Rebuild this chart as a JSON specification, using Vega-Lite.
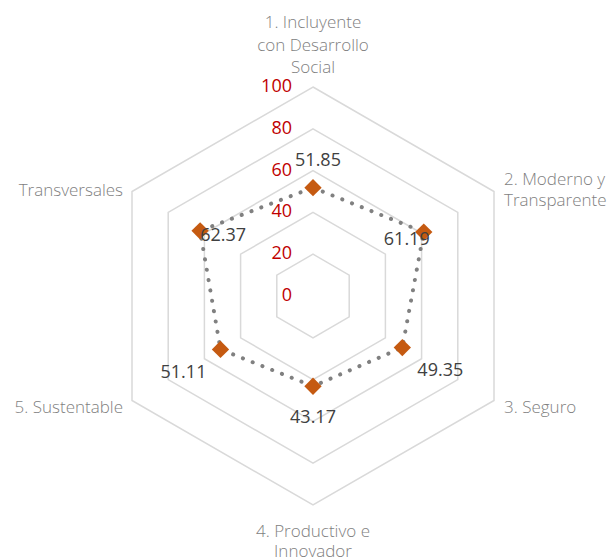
{
  "$schema": "https://vega.github.io/schema/vega-lite/v6.json",
  "width": 613,
  "height": 560,
  "autosize": "none",
  "padding": 0,
  "background": "white",
  "config": {"view": {"stroke": null}, "axis": {"disable": true}, "font": "Open Sans"},
  "datasets": {
    "pillars": [
      {"index": 0, "category": "1. Incluyente\ncon Desarrollo\nSocial", "value": 51.85},
      {"index": 1, "category": "2. Moderno y\nTransparente", "value": 61.19},
      {"index": 2, "category": "3. Seguro", "value": 49.35},
      {"index": 3, "category": "4. Productivo e\nInnovador", "value": 43.17},
      {"index": 4, "category": "5. Sustentable", "value": 51.11},
      {"index": 5, "category": "Transversales", "value": 62.37}
    ],
    "grid": [
      {"level": 20, "k": 0}, {"level": 20, "k": 1}, {"level": 20, "k": 2}, {"level": 20, "k": 3}, {"level": 20, "k": 4}, {"level": 20, "k": 5},
      {"level": 40, "k": 0}, {"level": 40, "k": 1}, {"level": 40, "k": 2}, {"level": 40, "k": 3}, {"level": 40, "k": 4}, {"level": 40, "k": 5},
      {"level": 60, "k": 0}, {"level": 60, "k": 1}, {"level": 60, "k": 2}, {"level": 60, "k": 3}, {"level": 60, "k": 4}, {"level": 60, "k": 5},
      {"level": 80, "k": 0}, {"level": 80, "k": 1}, {"level": 80, "k": 2}, {"level": 80, "k": 3}, {"level": 80, "k": 4}, {"level": 80, "k": 5},
      {"level": 100, "k": 0}, {"level": 100, "k": 1}, {"level": 100, "k": 2}, {"level": 100, "k": 3}, {"level": 100, "k": 4}, {"level": 100, "k": 5}
    ],
    "ticks": [{"level": 0}, {"level": 20}, {"level": 40}, {"level": 60}, {"level": 80}, {"level": 100}]
  },
  "layer": [
    {
      "data": {"name": "grid"},
      "transform": [
        {"calculate": "PI/2 - datum.k*PI/3", "as": "a"},
        {"calculate": "datum.level*cos(datum.a)", "as": "gx"},
        {"calculate": "datum.level*sin(datum.a)", "as": "gy"}
      ],
      "mark": {"type": "line", "interpolate": "linear-closed", "stroke": "#d9d9d9", "strokeWidth": 1.5},
      "encoding": {
        "x": {"field": "gx", "type": "quantitative", "scale": {"domain": [-149.76, 143.54], "nice": false, "zero": false}, "axis": null},
        "y": {"field": "gy", "type": "quantitative", "scale": {"domain": [-126.32, 141.63], "nice": false, "zero": false}, "axis": null},
        "detail": {"field": "level", "type": "nominal"},
        "order": {"field": "k", "type": "quantitative"}
      }
    },
    {
      "data": {"name": "ticks"},
      "mark": {"type": "text", "align": "right", "baseline": "middle", "dx": -21, "color": "#c00000", "fontSize": 18},
      "encoding": {
        "x": {"datum": 0, "type": "quantitative"},
        "y": {"field": "level", "type": "quantitative"},
        "text": {"field": "level", "type": "quantitative"}
      }
    },
    {
      "data": {"name": "pillars"},
      "transform": [
        {"calculate": "PI/2 - datum.index*PI/3", "as": "a"},
        {"calculate": "datum.value*cos(datum.a)", "as": "px"},
        {"calculate": "datum.value*sin(datum.a)", "as": "py"},
        {"calculate": "100*cos(datum.a)", "as": "cx"},
        {"calculate": "100*sin(datum.a)", "as": "cy"}
      ],
      "layer": [
        {
          "mark": {"type": "line", "interpolate": "linear-closed", "stroke": "#808080", "strokeWidth": 4, "strokeDash": [0.1, 10.4], "strokeCap": "round"},
          "encoding": {
            "x": {"field": "px", "type": "quantitative"},
            "y": {"field": "py", "type": "quantitative"},
            "order": {"field": "index", "type": "quantitative"}
          }
        },
        {
          "mark": {"type": "point", "shape": "diamond", "filled": true, "size": 300, "color": "#c55a11", "opacity": 1},
          "encoding": {
            "x": {"field": "px", "type": "quantitative"},
            "y": {"field": "py", "type": "quantitative"}
          }
        },
        {
          "transform": [{"filter": "datum.index == 0"}],
          "mark": {"type": "text", "align": "center", "baseline": "middle", "dx": 5, "dy": -27, "fontSize": 18, "color": "#404040"},
          "encoding": {"x": {"field": "px", "type": "quantitative"}, "y": {"field": "py", "type": "quantitative"}, "text": {"field": "value", "type": "quantitative", "format": ".2f"}}
        },
        {
          "transform": [{"filter": "datum.index == 1"}],
          "mark": {"type": "text", "align": "center", "baseline": "middle", "dx": -17, "dy": 8, "fontSize": 18, "color": "#404040"},
          "encoding": {"x": {"field": "px", "type": "quantitative"}, "y": {"field": "py", "type": "quantitative"}, "text": {"field": "value", "type": "quantitative", "format": ".2f"}}
        },
        {
          "transform": [{"filter": "datum.index == 2"}],
          "mark": {"type": "text", "align": "center", "baseline": "middle", "dx": 38, "dy": 23, "fontSize": 18, "color": "#404040"},
          "encoding": {"x": {"field": "px", "type": "quantitative"}, "y": {"field": "py", "type": "quantitative"}, "text": {"field": "value", "type": "quantitative", "format": ".2f"}}
        },
        {
          "transform": [{"filter": "datum.index == 3"}],
          "mark": {"type": "text", "align": "center", "baseline": "middle", "dx": 0, "dy": 32, "fontSize": 18, "color": "#404040"},
          "encoding": {"x": {"field": "px", "type": "quantitative"}, "y": {"field": "py", "type": "quantitative"}, "text": {"field": "value", "type": "quantitative", "format": ".2f"}}
        },
        {
          "transform": [{"filter": "datum.index == 4"}],
          "mark": {"type": "text", "align": "center", "baseline": "middle", "dx": -37, "dy": 24, "fontSize": 18, "color": "#404040"},
          "encoding": {"x": {"field": "px", "type": "quantitative"}, "y": {"field": "py", "type": "quantitative"}, "text": {"field": "value", "type": "quantitative", "format": ".2f"}}
        },
        {
          "transform": [{"filter": "datum.index == 5"}],
          "mark": {"type": "text", "align": "center", "baseline": "middle", "dx": 23, "dy": 5, "fontSize": 18, "color": "#404040"},
          "encoding": {"x": {"field": "px", "type": "quantitative"}, "y": {"field": "py", "type": "quantitative"}, "text": {"field": "value", "type": "quantitative", "format": ".2f"}}
        },
        {
          "transform": [{"filter": "datum.index == 0"}],
          "mark": {"type": "text", "align": "center", "baseline": "alphabetic", "dy": -59, "lineBreak": "\n", "lineHeight": 22.5, "fontSize": 17, "fontWeight": 300, "color": "#7f7f7f"},
          "encoding": {"x": {"field": "cx", "type": "quantitative"}, "y": {"field": "cy", "type": "quantitative"}, "text": {"field": "category", "type": "nominal"}}
        },
        {
          "transform": [{"filter": "datum.index == 1"}],
          "mark": {"type": "text", "align": "left", "baseline": "alphabetic", "dx": 10, "dy": -7, "lineBreak": "\n", "lineHeight": 21, "fontSize": 17, "fontWeight": 300, "color": "#7f7f7f"},
          "encoding": {"x": {"field": "cx", "type": "quantitative"}, "y": {"field": "cy", "type": "quantitative"}, "text": {"field": "category", "type": "nominal"}}
        },
        {
          "transform": [{"filter": "datum.index == 2"}],
          "mark": {"type": "text", "align": "left", "baseline": "alphabetic", "dx": 10, "dy": 13, "lineBreak": "\n", "lineHeight": 21, "fontSize": 17, "fontWeight": 300, "color": "#7f7f7f"},
          "encoding": {"x": {"field": "cx", "type": "quantitative"}, "y": {"field": "cy", "type": "quantitative"}, "text": {"field": "category", "type": "nominal"}}
        },
        {
          "transform": [{"filter": "datum.index == 3"}],
          "mark": {"type": "text", "align": "center", "baseline": "alphabetic", "dy": 32, "lineBreak": "\n", "lineHeight": 20, "fontSize": 17, "fontWeight": 300, "color": "#7f7f7f"},
          "encoding": {"x": {"field": "cx", "type": "quantitative"}, "y": {"field": "cy", "type": "quantitative"}, "text": {"field": "category", "type": "nominal"}}
        },
        {
          "transform": [{"filter": "datum.index == 4"}],
          "mark": {"type": "text", "align": "right", "baseline": "alphabetic", "dx": -9, "dy": 13, "lineBreak": "\n", "lineHeight": 21, "fontSize": 17, "fontWeight": 300, "color": "#7f7f7f"},
          "encoding": {"x": {"field": "cx", "type": "quantitative"}, "y": {"field": "cy", "type": "quantitative"}, "text": {"field": "category", "type": "nominal"}}
        },
        {
          "transform": [{"filter": "datum.index == 5"}],
          "mark": {"type": "text", "align": "right", "baseline": "alphabetic", "dx": -9, "dy": 4, "lineBreak": "\n", "lineHeight": 21, "fontSize": 17, "fontWeight": 300, "color": "#7f7f7f"},
          "encoding": {"x": {"field": "cx", "type": "quantitative"}, "y": {"field": "cy", "type": "quantitative"}, "text": {"field": "category", "type": "nominal"}}
        }
      ]
    }
  ]
}
